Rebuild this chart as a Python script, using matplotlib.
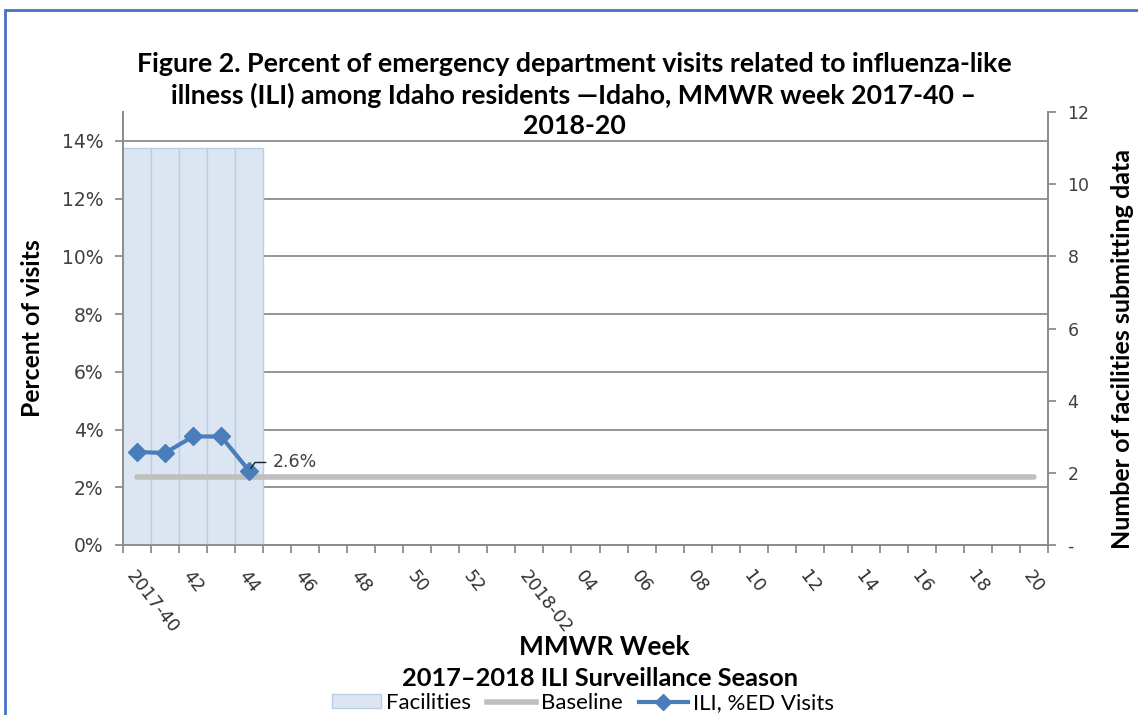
import matplotlib
matplotlib.use("Agg")
import matplotlib.pyplot as plt
from matplotlib import font_manager as fm
from matplotlib.patches import Rectangle, Patch
from matplotlib.lines import Line2D
import numpy as np

weeks = ["2017-40", "41", "42", "43", "44", "45", "46", "47", "48", "49", "50", "51", "52",
         "2018-01", "02", "03", "04", "05", "06", "07", "08", "09", "10", "11", "12",
         "13", "14", "15", "16", "17", "18", "19", "20"]
tick_labels = ["2017-40", "42", "44", "46", "48", "50", "52", "2018-02", "04", "06", "08",
               "10", "12", "14", "16", "18", "20"]
facilities = [11, 11, 11, 11, 11]
ili_pct = [3.22, 3.19, 3.76, 3.76, 2.57]
baseline_pct = 2.35
ili_label = "2.6%"

title = ("Figure 2. Percent of emergency department visits related to influenza-like\n"
         "illness (ILI) among Idaho residents \u2014Idaho, MMWR week 2017-40 \u2013\n"
         "2018-20")

names = {f.name for f in fm.fontManager.ttflist}
NARROW = "Lato" if "Lato" in names else "DejaVu Sans"
TICKF = "DejaVu Sans"

fig = plt.figure(figsize=(11.38, 7.15), dpi=100)
W, H = 1138, 715
ax = fig.add_axes([123 / W, 1 - 545 / H, (1048 - 123) / W, (545 - 112) / H])
ax2 = ax.twinx()

n = len(weeks)
x = np.arange(n)
ax.set_xlim(-0.5, n - 0.5)
ax.set_ylim(0, 15)
ax2.set_ylim(0, 12)

ax.set_yticks(np.arange(0, 15, 2))
ax.set_yticklabels([f"{v}%" for v in range(0, 15, 2)], family=TICKF, fontsize=13.5, color="#404040")
ax.yaxis.grid(True, color="#8c8c8c", linewidth=1.3)
ax.set_axisbelow(True)

ax2.bar(x[:len(facilities)], facilities, width=1.0, color="#dce6f2", edgecolor="#b9cde5",
        linewidth=1.0, zorder=1)
ax2.plot(x, [baseline_pct] * n, color="#bfbfbf", linewidth=4, solid_capstyle="round",
         transform=ax.transData, zorder=2)
ax2.plot(x[:len(ili_pct)], ili_pct, color="#4a7ebb", linewidth=3, marker="D", markersize=9,
         transform=ax.transData, zorder=3)
ax2.annotate(ili_label, xy=(x[len(ili_pct) - 1], ili_pct[-1]), xycoords=ax.transData,
             xytext=(17, 6), textcoords="offset points", fontsize=12.5, family=TICKF,
             color="#404040", va="center", ha="left",
             arrowprops=dict(arrowstyle="-", color="#202020", lw=1,
                             connectionstyle="angle,angleA=0,angleB=55,rad=0",
                             shrinkA=3, shrinkB=2))

ax2.set_yticks(np.arange(0, 13, 2))
ax2.set_yticklabels(["-"] + [str(v) for v in range(2, 13, 2)], family=TICKF, fontsize=12.5,
                    color="#404040")

ax.set_xticks(np.arange(-0.5, n, 1.0), minor=True)
ax.set_xticks(x[::2])
ax.set_xticklabels(tick_labels, rotation=-52, ha="left", va="top", rotation_mode="anchor",
                   family=TICKF, fontsize=12.8, color="#303030")
ax.tick_params(axis="x", which="major", length=0, pad=16)
ax.tick_params(axis="x", which="minor", length=6, color="#8c8c8c", width=1.3)
ax.tick_params(axis="y", length=6, color="#8c8c8c", width=1.3, pad=8)
ax2.tick_params(axis="y", length=6, color="#8c8c8c", width=1.3, pad=8)

for a in (ax, ax2):
    a.spines["top"].set_visible(False)
    for s in ("left", "right", "bottom"):
        a.spines[s].set_color("#8c8c8c")
        a.spines[s].set_linewidth(1.3)

fig.text(33 / W, 1 - 328 / H, "Percent of visits", rotation=90, ha="center", va="center",
         family=NARROW, fontweight="bold", fontsize=17.8)
fig.text(1123 / W, 1 - 349 / H, "Number of facilities submitting data", rotation=90,
         ha="center", va="center", family=NARROW, fontweight="bold", fontsize=18)

fig.text(574 / W, 1 - 95 / H, title, ha="center", va="center", family=NARROW,
         fontweight="bold", fontsize=19.3, linespacing=1.3)
fig.text(604 / W, 1 - 647 / H, "MMWR Week", ha="center", va="center", family=NARROW,
         fontweight="bold", fontsize=19)
fig.text(600 / W, 1 - 678 / H, "2017\u20132018 ILI Surveillance Season", ha="center",
         va="center", family=NARROW, fontweight="bold", fontsize=18.3)

handles = [Patch(facecolor="#dce6f2", edgecolor="#b9cde5"),
           Line2D([], [], color="#bfbfbf", linewidth=4),
           Line2D([], [], color="#4a7ebb", linewidth=3, marker="D", markersize=8)]
fig.legend(handles, ["Facilities", "Baseline", "ILI, %ED Visits"], loc="center",
           bbox_to_anchor=(583 / W, 1 - 703 / H), ncol=3, frameon=False,
           prop={"family": NARROW, "size": 16}, handlelength=2.2, handletextpad=0.25,
           columnspacing=0.7, borderpad=0, handleheight=0.6)

fig.patches.append(Rectangle((5 / W, -0.1), 1.2, 1 - 10 / H + 0.1, transform=fig.transFigure,
                             fill=False, edgecolor="#4472c4", linewidth=2))

fig.savefig("out.png", dpi=100)
